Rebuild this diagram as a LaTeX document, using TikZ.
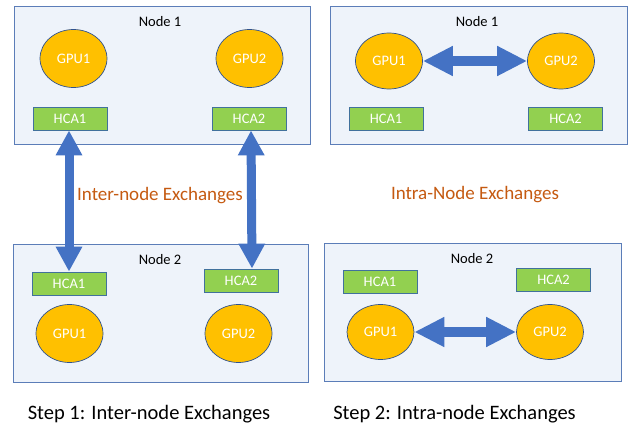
\documentclass[tikz,border=0pt]{standalone}
\usepackage{fontspec}
\setmainfont{Carlito}
\usetikzlibrary{arrows.meta,shapes.geometric}

\definecolor{boxfill}{HTML}{EEF3FA}
\definecolor{boxline}{HTML}{5B7DB8}
\definecolor{gpufill}{HTML}{FFC000}
\definecolor{gpuline}{HTML}{2F528F}
\definecolor{hcafill}{HTML}{92D050}
\definecolor{hcaline}{HTML}{41719C}
\definecolor{arrowblue}{HTML}{4472C4}
\definecolor{xchg}{HTML}{C55A11}

\tikzset{
  nodebox/.style={draw=boxline, fill=boxfill, line width=0.9pt, inner sep=0pt},
  boxtitle/.style={font=\fontsize{14.5}{17}\selectfont, text=black},
  gpu/.style={ellipse, draw=gpuline, fill=gpufill, line width=0.7pt,
    minimum width=67pt, minimum height=58pt, inner sep=0pt,
    text=white, font=\fontsize{14.5}{17}\selectfont},
  hca/.style={rectangle, draw=hcaline, fill=hcafill, line width=0.8pt,
    minimum width=74pt, minimum height=23pt, inner sep=0pt,
    text=white, font=\fontsize{14.5}{17}\selectfont},
  vxarrow/.style={draw=arrowblue, line width=9pt,
    {Triangle[width=25pt,length=25pt,fill=arrowblue]}-{Triangle[width=25pt,length=25pt,fill=arrowblue]}},
  hxarrow/.style={draw=arrowblue, line width=10pt,
    {Triangle[width=28pt,length=30pt,fill=arrowblue]}-{Triangle[width=28pt,length=30pt,fill=arrowblue]}},
  xlabel/.style={text=xchg, font=\fontsize{19}{22}\selectfont},
  caption/.style={text=black, font=\fontsize{20.5}{24}\selectfont}
}

\begin{document}
\begin{tikzpicture}[x=1pt, y=-1pt]
  \useasboundingbox[fill=white] (0,0) rectangle (638,433);

  % ---- Step 1, Node 1 ----
  \node[nodebox, minimum width=296pt, minimum height=138pt] (sa1) at (162,75) {};
  \node[boxtitle] (sa1t) at (160,22) {Node 1};
  \node[gpu] (sa1g1) at (73.5,58.5) {GPU1};
  \node[gpu] (sa1g2) at (249.5,58.5) {GPU2};
  \node[hca] (sa1h1) at (70,118.5) {HCA1};
  \node[hca] (sa1h2) at (249,118.5) {HCA2};

  % ---- Step 1, Node 2 ----
  \node[nodebox, minimum width=295pt, minimum height=138pt] (sa2) at (160.5,313) {};
  \node[boxtitle] (sa2t) at (160,260) {Node 2};
  \node[hca] (sa2h1) at (69,283.5) {HCA1};
  \node[hca] (sa2h2) at (241,280.5) {HCA2};
  \node[gpu] (sa2g1) at (69.5,333.5) {GPU1};
  \node[gpu] (sa2g2) at (238.5,333.5) {GPU2};

  % inter-node exchanges between matching HCAs
  \draw[vxarrow] ([xshift=-1pt]sa1h1.south) -- (sa2h1.north);
  \draw[vxarrow] ([xshift=2pt]sa1h2.south) -- ([xshift=11pt]sa2h2.north);
  \node[xlabel] (interlbl) at (160,196) {Inter-node Exchanges};

  % ---- Step 2, Node 1 ----
  \node[nodebox, minimum width=297pt, minimum height=138pt] (sb1) at (478.5,75) {};
  \node[boxtitle] (sb1t) at (477,22) {Node 1};
  \node[gpu, minimum height=56pt] (sb1g1) at (389,61) {GPU1};
  \node[gpu, minimum height=56pt] (sb1g2) at (561,61) {GPU2};
  \node[hca] (sb1h1) at (386,118.5) {HCA1};
  \node[hca] (sb1h2) at (565.5,118.5) {HCA2};
  \draw[hxarrow] (sb1g1.east) -- (sb1g2.west);

  \node[xlabel] (intralbl) at (475,195) {Intra-Node Exchanges};

  % ---- Step 2, Node 2 ----
  \node[nodebox, minimum width=297pt, minimum height=138pt] (sb2) at (472.5,312) {};
  \node[boxtitle] (sb2t) at (472,259) {Node 2};
  \node[hca] (sb2h1) at (380,281.5) {HCA1};
  \node[hca] (sb2h2) at (553.5,279.5) {HCA2};
  \node[gpu, minimum height=55pt] (sb2g1) at (380.5,332) {GPU1};
  \node[gpu, minimum height=55pt] (sb2g2) at (550,332) {GPU2};
  \draw[hxarrow] (sb2g1.east) -- (sb2g2.west);

  % ---- captions ----
  \node[caption] (cap1) at (149,414) {Step 1: Inter-node Exchanges};
  \node[caption] (cap2) at (454.5,414) {Step 2: Intra-node Exchanges};
\end{tikzpicture}
\end{document}
